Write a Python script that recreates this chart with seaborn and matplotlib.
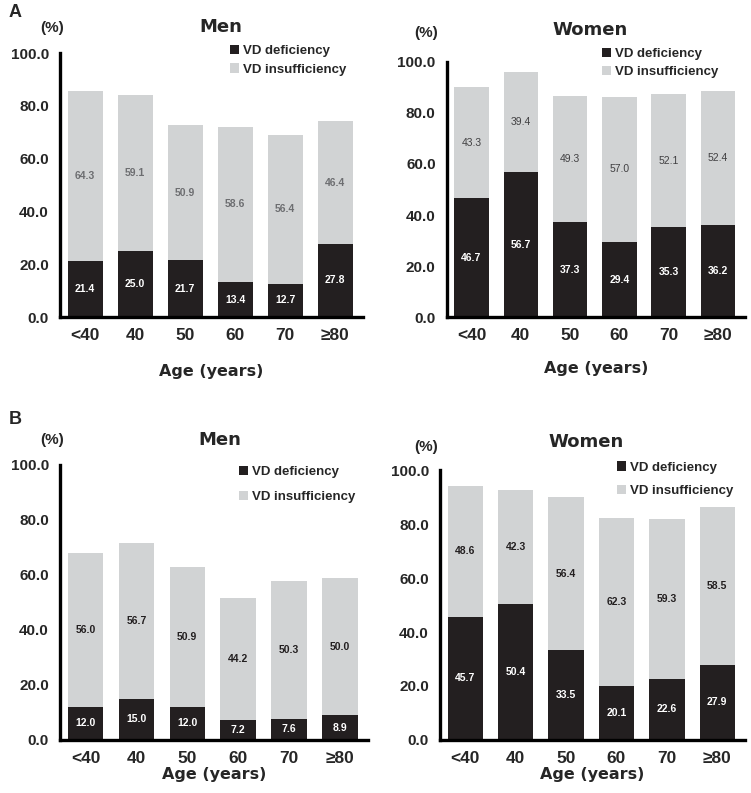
import pandas as pd
import matplotlib.pyplot as plt
import seaborn as sns

ages = ["<40", "40", "50", "60", "70", "≥80"]

a_men_def = [21.4, 25.0, 21.7, 13.4, 12.7, 27.8]
a_men_ins = [64.3, 59.1, 50.9, 58.6, 56.4, 46.4]
a_women_def = [46.7, 56.7, 37.3, 29.4, 35.3, 36.2]
a_women_ins = [43.3, 39.4, 49.3, 57.0, 52.1, 52.4]

b_men_def = [12.0, 15.0, 12.0, 7.2, 7.6, 8.9]
b_men_ins = [56.0, 56.7, 50.9, 44.2, 50.3, 50.0]
b_women_def = [45.7, 50.4, 33.5, 20.1, 22.6, 27.9]
b_women_ins = [48.6, 42.3, 56.4, 62.3, 59.3, 58.5]

yticks = [0, 20, 40, 60, 80, 100]

BLACK = "#231f20"
GRAY = "#d1d3d4"

sns.set_theme(style="white")
plt.rcParams['font.family'] = ['Liberation Sans', 'DejaVu Sans']

fig = plt.figure(figsize=(7.51, 7.93), dpi=100)

# one dict per panel: data, axes rect and the little layout tweaks of each panel
panels = [
    dict(title="Men", d=a_men_def, ins=a_men_ins, rect=[0.080, 0.600, 0.403, 0.333],
         ins_col="#6d6e71", ins_bold=True, title_pad=15, title_x=0.53, xlab_pad=15,
         pct=(-8, 25), leg=(0.56, 1.03), leg_sp=0.45),
    dict(title="Women", d=a_women_def, ins=a_women_ins, rect=[0.595, 0.600, 0.397, 0.322],
         ins_col="#414042", ins_bold=False, title_pad=19.5, title_x=0.48, xlab_pad=13,
         pct=(-21, 29), leg=(0.52, 1.055), leg_sp=0.45),
    dict(title="Men", d=b_men_def, ins=b_men_ins, rect=[0.080, 0.067, 0.410, 0.347],
         ins_col="#231f20", ins_bold=True, title_pad=14.5, title_x=0.52, xlab_pad=1,
         pct=(-8, 25), leg=(0.58, 0.997), leg_sp=1.0),
    dict(title="Women", d=b_women_def, ins=b_women_ins, rect=[0.586, 0.067, 0.406, 0.340],
         ins_col="#231f20", ins_bold=True, title_pad=16.5, title_x=0.48, xlab_pad=1,
         pct=(-14, 23), leg=(0.58, 1.033), leg_sp=0.85),
]

for p in panels:
    ax = fig.add_axes(p["rect"])
    df = pd.DataFrame({"age": ages, "def": p["d"], "ins": p["ins"]})
    df["total"] = df["def"] + df["ins"]

    sns.barplot(data=df, x="age", y="total", color=GRAY, width=0.7, linewidth=0,
                saturation=1, ax=ax, label="VD insufficiency")
    sns.barplot(data=df, x="age", y="def", color=BLACK, width=0.7, linewidth=0,
                saturation=1, ax=ax, label="VD deficiency")

    # value labels in the middle of each segment
    for i, row in df.iterrows():
        ax.text(i, row["def"] / 2, f"{row['def']:.1f}", ha="center", va="center",
                color="white", fontsize=7.5, fontweight="bold")
        ax.text(i, row["def"] + row["ins"] / 2, f"{row['ins']:.1f}", ha="center",
                va="center", color=p["ins_col"], fontsize=7.5,
                fontweight="bold" if p["ins_bold"] else "normal")

    ax.set_ylim(0, 100)
    ax.set_xlim(-0.5, 5.55)
    ax.set_yticks(yticks)
    ax.set_yticklabels([f"{v:.1f}" for v in yticks], fontsize=11, fontweight="bold")
    # ticks between bars, labels at bar centers
    ax.set_xticks([i - 0.5 for i in range(7)])
    ax.set_xticklabels([])
    ax.set_xticks(range(6), minor=True)
    ax.set_xticklabels(ages, minor=True, fontsize=12.5, fontweight="bold")
    ax.tick_params(axis="x", which="major", direction="out", length=4, width=2, color="black")
    ax.tick_params(axis="x", which="minor", length=0, pad=8)
    ax.tick_params(axis="y", direction="out", length=4, width=2, color="black", pad=4)
    for side in ["top", "right"]:
        ax.spines[side].set_visible(False)
    for side in ["left", "bottom"]:
        ax.spines[side].set_linewidth(2.4)
        ax.spines[side].set_color("black")

    ax.set_xlabel("Age (years)", fontsize=11.5, fontweight="bold",
                  family=["DejaVu Sans"], labelpad=p["xlab_pad"])
    ax.set_ylabel("")
    ax.set_title(p["title"], fontsize=13, fontweight="bold", family=["DejaVu Sans"],
                 pad=p["title_pad"], x=p["title_x"])
    ax.annotate("(%)", xy=(0, 1), xycoords="axes fraction", xytext=p["pct"],
                textcoords="offset pixels", fontsize=11, fontweight="bold",
                ha="center", va="center")

    handles, labels = ax.get_legend_handles_labels()
    order = [labels.index("VD deficiency"), labels.index("VD insufficiency")]
    ax.legend([handles[k] for k in order], [labels[k] for k in order],
              loc="upper left", bbox_to_anchor=p["leg"], frameon=False,
              prop={"weight": "bold", "size": 9.5}, borderpad=0, borderaxespad=0,
              handlelength=0.7, handleheight=0.7, handletextpad=0.3,
              labelspacing=p["leg_sp"])

fig.text(0.012, 0.995, "A", fontsize=13, fontweight="bold", va="top")
fig.text(0.012, 0.482, "B", fontsize=13, fontweight="bold", va="top")

fig.savefig("out.png", dpi=100)
